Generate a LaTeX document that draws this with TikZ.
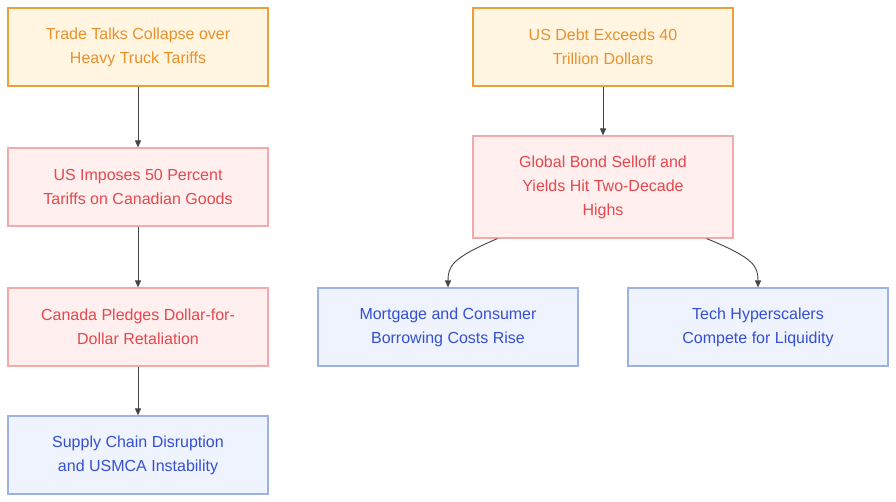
\documentclass[tikz,border=0pt]{standalone}
\usepackage{fontspec}
\setmainfont{Liberation Sans}
\usetikzlibrary{arrows.meta}
\definecolor{ofill}{HTML}{FFF5E0}
\definecolor{odraw}{HTML}{E9A23B}
\definecolor{otext}{HTML}{E8912D}
\definecolor{rfill}{HTML}{FFEFEF}
\definecolor{rdraw}{HTML}{F3AAAA}
\definecolor{rtext}{HTML}{E5484D}
\definecolor{bfill}{HTML}{EFF3FD}
\definecolor{bdraw}{HTML}{9DB1E5}
\definecolor{btext}{HTML}{3550D0}
\definecolor{edge}{HTML}{444444}
\tikzset{
  box/.style={rectangle, minimum width=260pt, minimum height=78pt, align=center, font=\fontsize{16}{24}\selectfont, inner sep=0pt},
  obox/.style={box, fill=ofill, draw=odraw, line width=1.5pt, text=otext},
  rbox/.style={box, fill=rfill, draw=rdraw, line width=1.2pt, text=rtext},
  bbox/.style={box, fill=bfill, draw=bdraw, line width=1.2pt, text=btext},
  conn/.style={draw=edge, line width=0.9pt, -{Triangle[length=7pt,width=6pt]}}
}
\begin{document}
\begin{tikzpicture}[x=1pt,y=-1pt]
\useasboundingbox (0,0) rectangle (896,502);
\node[obox] (A) at (138,47) {Trade Talks Collapse over\\Heavy Truck Tariffs};
\node[rbox] (B) at (138,187) {US Imposes 50 Percent\\Tariffs on Canadian Goods};
\node[rbox] (C) at (138,327) {Canada Pledges Dollar-for-\\Dollar Retaliation};
\node[bbox] (D) at (138,455) {Supply Chain Disruption\\and USMCA Instability};
\node[obox] (E) at (603,47) {US Debt Exceeds 40\\Trillion Dollars};
\node[rbox, minimum height=102pt] (F) at (603,187) {Global Bond Selloff and\\Yields Hit Two-Decade\\Highs};
\node[bbox] (G) at (448,327) {Mortgage and Consumer\\Borrowing Costs Rise};
\node[bbox] (H) at (758,327) {Tech Hyperscalers\\Compete for Liquidity};
\draw[conn] (A) -- (B);
\draw[conn] (B) -- (C);
\draw[conn] (C) -- (D);
\draw[conn] (E) -- (F);
\draw[conn] (F.south west) ++(25,0) .. controls (452,258) and (448,266) .. (G.north);
\draw[conn] (F.south east) ++(-27,0) .. controls (754,258) and (758,266) .. (H.north);
\end{tikzpicture}
\end{document}
